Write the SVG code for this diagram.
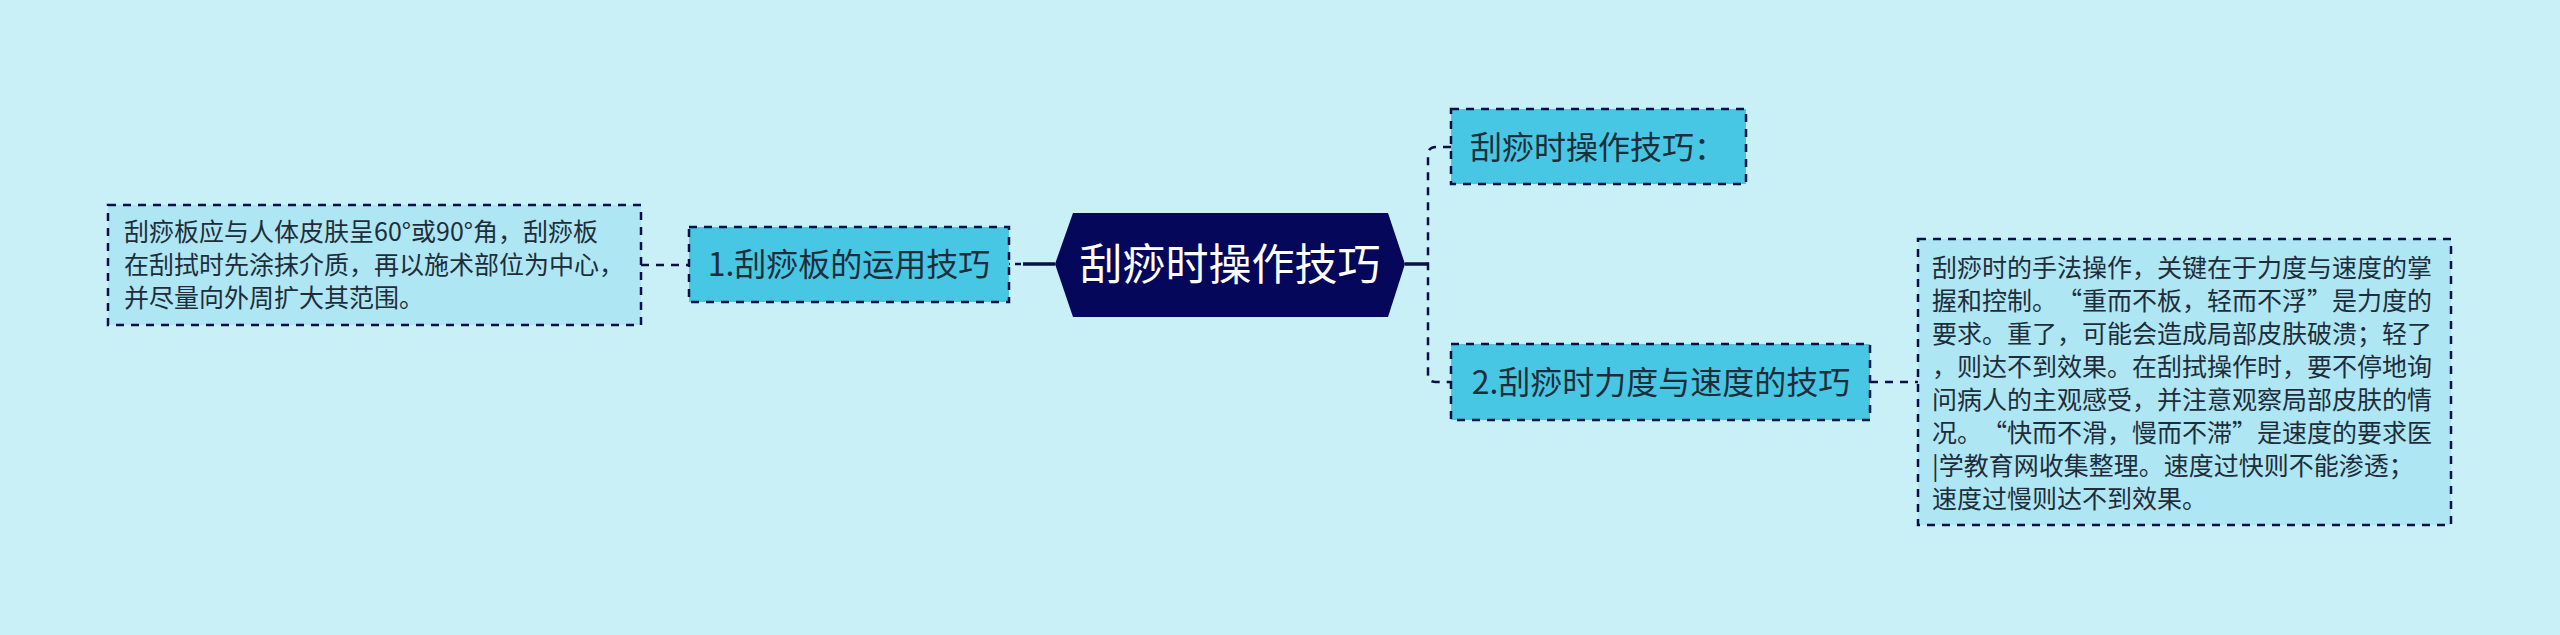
<svg xmlns="http://www.w3.org/2000/svg" width="2560" height="635" viewBox="0 0 2560 635">
<style>
.bg{fill:#c9f0f7}
.leaf{fill:#aee6f3;stroke:#0b0f48;stroke-width:2.5;stroke-dasharray:8 7}
.node{fill:#47c7e3;stroke:#0b0f48;stroke-width:2.5;stroke-dasharray:8 7}
.dash{fill:none;stroke:#0b0f48;stroke-width:2.5;stroke-dasharray:8 7}
.solid{fill:none;stroke:#0b0f48;stroke-width:3.5}
text{font-family:"Noto Sans CJK SC","Noto Sans",sans-serif;fill:#1f2d3a}
.t32{font-size:32px;text-anchor:middle}
.t25{font-size:25px}
.center{font-size:43px;fill:#ffffff;text-anchor:middle}
</style>
<rect class="bg" x="0" y="0" width="2560" height="635"/>
<g id="connectors">
  <path class="dash" d="M641,265 L689,265"/>
  <path class="solid" d="M1055,264 L1023,264"/>
  <path class="dash" d="M1021,264 L1009,264" style="stroke-dasharray:6 5"/>
  <path class="solid" d="M1405,264 L1428,264"/>
  <path class="dash" d="M1451,147 L1436,147 Q1428,147 1428,155 L1428,374 Q1428,382 1436,382 L1451,382"/>
  <path class="dash" d="M1870,382 L1918,382"/>
</g>
<g id="center">
  <polygon points="1055,264 1073,213 1388,213 1405,264 1388,317 1073,317" fill="#04075a"/>
  <text class="center" x="1230" y="280">刮痧时操作技巧</text>
</g>
<g id="node1">
  <rect class="node" x="689" y="227" width="320" height="75"/>
  <text class="t32" x="849" y="276">1.刮痧板的运用技巧</text>
</g>
<g id="leaf1">
  <rect class="leaf" x="108" y="205" width="533" height="120"/>
  <text class="t25" x="124" y="241">刮痧板应与人体皮肤呈60°或90°角，刮痧板</text>
  <text class="t25" x="124" y="274">在刮拭时先涂抹介质，再以施术部位为中心，</text>
  <text class="t25" x="124" y="307">并尽量向外周扩大其范围。</text>
</g>
<g id="node-top">
  <rect class="node" x="1451" y="109" width="295" height="75"/>
  <text class="t32" x="1598" y="159">刮痧时操作技巧：</text>
</g>
<g id="node2">
  <rect class="node" x="1451" y="344" width="419" height="76"/>
  <text class="t32" x="1661" y="394">2.刮痧时力度与速度的技巧</text>
</g>
<g id="leaf2">
  <rect class="leaf" x="1918" y="239" width="533" height="286"/>
  <text class="t25" x="1932" y="277">刮痧时的手法操作，关键在于力度与速度的掌</text>
  <text class="t25" x="1932" y="310">握和控制。<tspan x="2057">“</tspan><tspan x="2082">重而不板，轻而不浮</tspan><tspan x="2307">”</tspan><tspan x="2332">是力度的</tspan></text>
  <text class="t25" x="1932" y="343">要求。重了，可能会造成局部皮肤破溃；轻了</text>
  <text class="t25" x="1932" y="376">，则达不到效果。在刮拭操作时，要不停地询</text>
  <text class="t25" x="1932" y="409">问病人的主观感受，并注意观察局部皮肤的情</text>
  <text class="t25" x="1932" y="442">况。<tspan x="1982">“</tspan><tspan x="2007">快而不滑，慢而不滞</tspan><tspan x="2232">”</tspan><tspan x="2257">是速度的要求医</tspan></text>
  <text class="t25" x="1932" y="475">|学教育网收集整理。速度过快则不能渗透；</text>
  <text class="t25" x="1932" y="508">速度过慢则达不到效果。</text>
</g>
</svg>
